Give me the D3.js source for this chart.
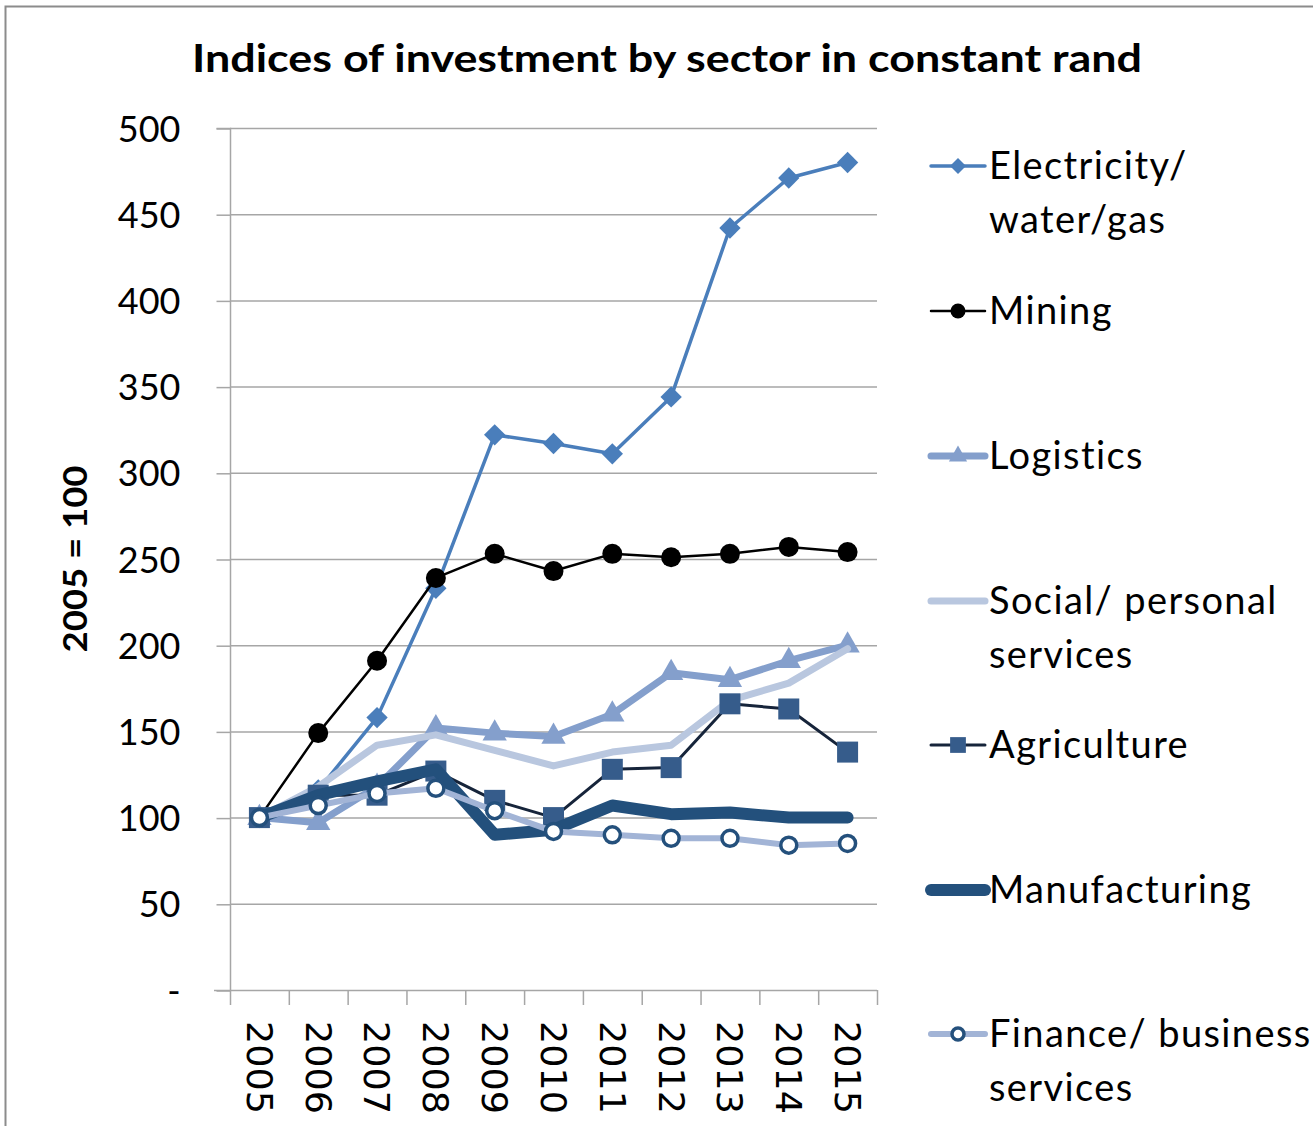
<!DOCTYPE html>
<html>
<head>
<meta charset="utf-8">
<script src="https://cdn.jsdelivr.net/npm/d3@7"></script>
<style>
  body { margin: 0; background: #fff; }
  svg { display: block; }
</style>
</head>
<body>
<div id="chart"></div>
<script>
// data
const years = ["2005","2006","2007","2008","2009","2010","2011","2012","2013","2014","2015"];
const electricity = [100, 116, 158, 233, 322, 317, 311, 344, 442, 471, 480];
const mining      = [100, 149, 191, 239, 253, 243, 253, 251, 253, 257, 254];
const logistics   = [100, 97, 118, 152, 149, 147, 160, 184, 180, 191, 200];
const social      = [100, 118, 142, 148, 139, 130, 138, 142, 168, 178, 198];
const agriculture = [100, 113, 113, 127, 110, 100, 128, 129, 166, 163, 138];
const manufacturing = [100, 113, 121, 128, 90, 93, 107, 102, 103, 100, 100];
const finance     = [100, 107, 114, 117, 104, 92, 90, 88, 88, 84, 85];
const yTicks = [0, 50, 100, 150, 200, 250, 300, 350, 400, 450, 500];

const W = 1313, H = 1126;
const plotLeft = 230, plotRight = 877, plotTop = 128, plotBottom = 990;

// series styling, drawn in this order
const series = [
  {name: ["Electricity/", "water/gas"], values: electricity, line: "#4A7EBB", width: 3.5, marker: "diamond", fill: "#4A7EBB", stroke: "none", size: 16},
  {name: ["Mining"], values: mining, line: "#000000", width: 2.5, marker: "circle", fill: "#000000", stroke: "none", size: 10},
  {name: ["Logistics"], values: logistics, line: "#849FCC", width: 7, marker: "triangle", fill: "#849FCC", stroke: "none", size: 17},
  {name: ["Social/ personal", "services"], values: social, line: "#B9C7DF", width: 7, marker: null},
  {name: ["Agriculture"], values: agriculture, line: "#16243A", width: 3, marker: "square", fill: "#365C8B", stroke: "none", size: 21},
  {name: ["Manufacturing"], values: manufacturing, line: "#23507C", width: 12, marker: null},
  {name: ["Finance/ business", "services"], values: finance, line: "#A2B4D6", width: 6, marker: "ring", fill: "#ffffff", stroke: "#24507C", size: 8}
];

const svg = d3.select("#chart").append("svg")
  .attr("width", W).attr("height", H);

svg.append("rect").attr("width", W).attr("height", H).attr("fill", "#fff");

// outer chart border
svg.append("path")
  .attr("d", "M5.5," + H + " L5.5,6.5 L" + W + ",6.5")
  .attr("fill", "none").attr("stroke", "#8c8c8c").attr("stroke-width", 2);

// title
svg.append("text")
  .attr("x", 667).attr("y", 72)
  .attr("text-anchor", "middle")
  .attr("font-family", "Lato, 'Open Sans', sans-serif")
  .attr("font-weight", "bold").attr("font-size", 39)
  .attr("textLength", 950).attr("lengthAdjust", "spacingAndGlyphs")
  .text("Indices of investment by sector in constant rand");

const x = d3.scaleBand().domain(years).range([plotLeft, plotRight]).padding(0);
const y = d3.scaleLinear().domain([0, 500]).range([plotBottom, plotTop]);

// gridlines
svg.append("g")
  .selectAll("line")
  .data(yTicks.filter(d => d > 0))
  .join("line")
  .attr("x1", plotLeft).attr("x2", plotRight)
  .attr("y1", d => y(d) + 0.5).attr("y2", d => y(d) + 0.5)
  .attr("stroke", "#a6a6a6").attr("stroke-width", 1.5);

// y axis
const yAxis = svg.append("g")
  .attr("transform", "translate(" + (plotLeft + 0.5) + ",0.5)")
  .call(d3.axisLeft(y).tickValues(yTicks).tickSize(14).tickPadding(36)
    .tickFormat(d => d === 0 ? "-" : d));
yAxis.select(".domain").attr("stroke", "#a6a6a6").attr("stroke-width", 1.5)
  .attr("d", "M-14," + plotTop + "H0V" + plotBottom);
yAxis.selectAll(".tick line").attr("stroke", "#a6a6a6").attr("stroke-width", 1.5);
yAxis.selectAll(".tick text")
  .attr("font-family", "Lato, sans-serif").attr("font-size", 36)
  .attr("fill", "#000").attr("dy", "0.35em");

// x axis
const xAxis = svg.append("g")
  .attr("transform", "translate(0," + (plotBottom + 0.5) + ")")
  .call(d3.axisBottom(x).tickSize(0).tickFormat(""));
xAxis.select(".domain").attr("stroke", "#a6a6a6").attr("stroke-width", 1.5)
  .attr("d", "M" + (plotLeft - 16) + ",0H" + plotRight);
svg.append("g")
  .selectAll("line")
  .data(years.concat(["end"]))
  .join("line")
  .attr("x1", (d, i) => (i < years.length ? x(d) : plotRight) + 0.5)
  .attr("x2", (d, i) => (i < years.length ? x(d) : plotRight) + 0.5)
  .attr("y1", plotBottom).attr("y2", plotBottom + 15)
  .attr("stroke", "#a6a6a6").attr("stroke-width", 1.5);

svg.append("g")
  .selectAll("text")
  .data(years)
  .join("text")
  .attr("transform", d => "translate(" + (x(d) + x.bandwidth() / 2) + "," + (plotBottom + 31) + ") rotate(90)")
  .attr("dy", "0.36em")
  .attr("font-family", "'DejaVu Sans', sans-serif").attr("font-size", 35)
  .attr("textLength", 93).attr("lengthAdjust", "spacingAndGlyphs")
  .text(d => d);

// y axis label
svg.append("text")
  .attr("transform", "translate(87,559) rotate(-90)")
  .attr("text-anchor", "middle")
  .attr("font-family", "Lato, sans-serif").attr("font-weight", "bold").attr("font-size", 33)
  .attr("textLength", 187).attr("lengthAdjust", "spacingAndGlyphs")
  .text("2005 = 100");

const line = d3.line()
  .x((d, i) => x(years[i]) + x.bandwidth() / 2)
  .y(d => y(d));

function drawMarker(g, s, cx, cy) {
  if (s.marker === "circle" || s.marker === "ring") {
    g.append("circle").attr("cx", cx).attr("cy", cy).attr("r", s.size)
      .attr("fill", s.fill).attr("stroke", s.stroke).attr("stroke-width", 3.5);
  } else if (s.marker === "diamond") {
    const r = s.size / 1.5;
    g.append("path")
      .attr("d", "M" + cx + "," + (cy - r) + "L" + (cx + r) + "," + cy + "L" + cx + "," + (cy + r) + "L" + (cx - r) + "," + cy + "Z")
      .attr("fill", s.fill);
  } else if (s.marker === "square") {
    g.append("rect").attr("x", cx - s.size / 2).attr("y", cy - s.size / 2)
      .attr("width", s.size).attr("height", s.size).attr("fill", s.fill);
  } else if (s.marker === "triangle") {
    const r = s.size / 1.4;
    g.append("path")
      .attr("d", "M" + cx + "," + (cy - r * 1.15) + "L" + (cx + r) + "," + (cy + r * 0.6) + "L" + (cx - r) + "," + (cy + r * 0.6) + "Z")
      .attr("fill", s.fill);
  }
}

const plot = svg.append("g");
series.forEach(s => {
  const g = plot.append("g");
  g.append("path")
    .datum(s.values)
    .attr("d", line)
    .attr("fill", "none")
    .attr("stroke", s.line)
    .attr("stroke-width", s.width)
    .attr("stroke-linejoin", "round")
    .attr("stroke-linecap", "round");
  if (s.marker) {
    s.values.forEach((v, i) => drawMarker(g, s, x(years[i]) + x.bandwidth() / 2, y(v)));
  }
});

// legend
const legendY = [166, 311, 456, 601, 745, 890, 1034];
const legend = svg.append("g");
series.forEach((s, i) => {
  const g = legend.append("g");
  const ly = legendY[i];
  g.append("line")
    .attr("x1", 931).attr("x2", 985).attr("y1", ly).attr("y2", ly)
    .attr("stroke", s.line).attr("stroke-width", s.width)
    .attr("stroke-linecap", "round");
  if (s.marker) {
    const ms = Object.assign({}, s, {size: s.size * 0.75});
    drawMarker(g, ms, 958, ly);
  }
  s.name.forEach((t, j) => {
    g.append("text")
      .attr("x", 989).attr("y", ly + j * 54)
      .attr("dy", "0.35em")
      .attr("font-family", "Lato, sans-serif").attr("font-size", 38)
      .attr("letter-spacing", 1.4)
      .attr("fill", "#000")
      .text(t);
  });
});
</script>
</body>
</html>
